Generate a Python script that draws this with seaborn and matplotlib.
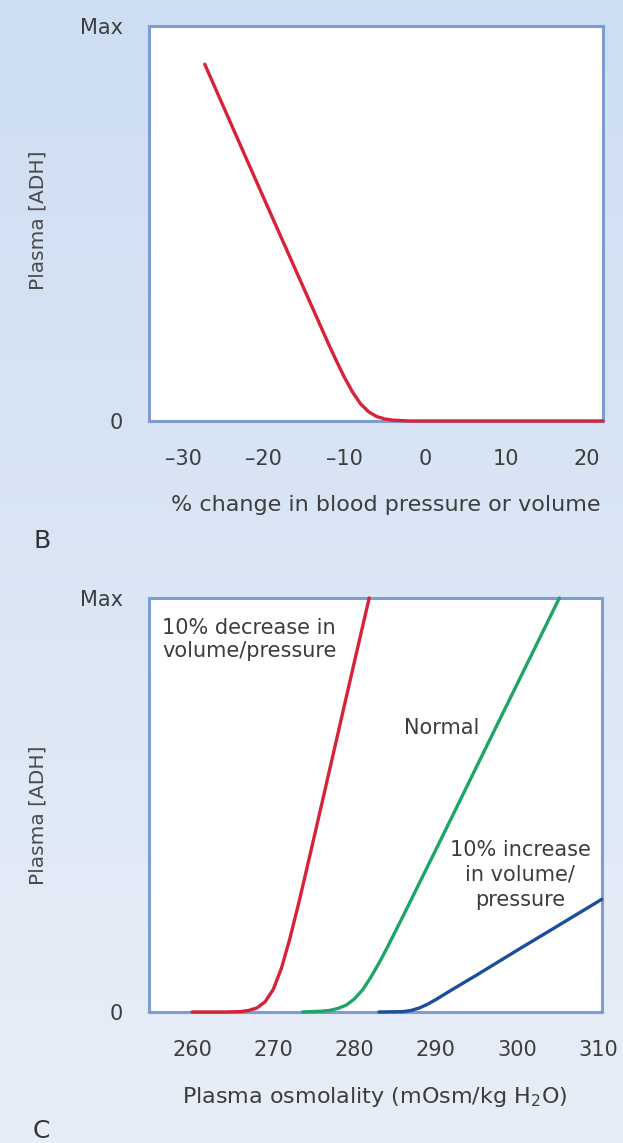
import matplotlib
matplotlib.use("Agg")
import matplotlib.pyplot as plt
import numpy as np
import pandas as pd
import seaborn as sns

# panel B: ADH vs % change in blood pressure / volume
b_change = [-27.3, -22, -18, -14, -12, -11, -10, -9, -8, -7, -6, -5, -4, -2, 22]
b_adh = [0.903, 0.657, 0.472, 0.288, 0.196, 0.152, 0.110, 0.073, 0.043,
         0.023, 0.011, 0.005, 0.002, 0.0, 0.0]
b_ticks = [-30, -20, -10, 0, 10, 20]

# panel C: ADH vs plasma osmolality, three volume states
c_dec_osm = [260, 264, 266, 267, 268, 269, 270, 271, 272, 273, 274, 276, 278, 280, 281.8]
c_dec_adh = [0, 0, 0.001, 0.004, 0.010, 0.025, 0.055, 0.106, 0.175, 0.253,
             0.336, 0.506, 0.677, 0.848, 1.0]
c_norm_osm = [273.6, 276, 277, 278, 279, 280, 281, 282, 283, 284, 286, 290, 295, 300, 305.2]
c_norm_adh = [0, 0.002, 0.004, 0.009, 0.017, 0.032, 0.054, 0.084, 0.118, 0.155,
              0.233, 0.392, 0.592, 0.792, 1.0]
c_inc_osm = [283.0, 286, 287, 288, 289, 290, 292, 295, 300, 305, 310.4]
c_inc_adh = [0, 0.001, 0.004, 0.010, 0.019, 0.030, 0.054, 0.089, 0.149, 0.208, 0.272]
c_ticks = [260, 270, 280, 290, 300, 310]

y_ticks = [0, 1]
y_ticklabels = ["0", "Max"]

RED = "#d62339"
GREEN = "#1ea566"
BLUE = "#1c4f9a"
FRAME = "#7f9cd0"
TICK = "#8ea3c6"
TEXT = "#3d3d3d"

sns.set_style("white")
plt.rcParams["font.family"] = ["DejaVu Sans"]

fig = plt.figure(figsize=(6.23, 11.43), dpi=100)

# soft blue gradient background
bg = fig.add_axes([0, 0, 1, 1], zorder=-10)
grad = np.linspace(0, 1, 256).reshape(-1, 1)
bg.imshow(grad, aspect="auto", extent=[0, 1, 0, 1],
          cmap=matplotlib.colors.LinearSegmentedColormap.from_list(
              "bg", ["#cddef2", "#e8eef8"]))
bg.axis("off")

ax_b = fig.add_axes([0.2392, 0.6317, 0.7287, 0.3456])
ax_c = fig.add_axes([0.2392, 0.1146, 0.7271, 0.3622])


def style_axes(ax, xlim, xticks):
    ax.set_facecolor("white")
    ax.set_xlim(*xlim)
    ax.set_ylim(0, 1)
    ax.set_xticks(xticks)
    ax.set_yticks(y_ticks)
    ax.set_yticklabels(y_ticklabels)
    for s in ax.spines.values():
        s.set_visible(True)
        s.set_color(FRAME)
        s.set_linewidth(2.2)
    ax.tick_params(axis="x", direction="out", length=10, width=1.6, color=TICK,
                   pad=10, labelsize=15, labelcolor=TEXT)
    ax.tick_params(axis="y", direction="out", length=10, width=1.6, color=TICK,
                   pad=9, labelsize=15, labelcolor=TEXT)
    ax.set_ylabel("Plasma [ADH]", fontsize=14.5, color="#4a4a4a", va="center")


df_b = pd.DataFrame({"change": b_change, "adh": b_adh})
sns.lineplot(data=df_b, x="change", y="adh", ax=ax_b, color=RED, lw=2.4,
             clip_on=False, zorder=4)
style_axes(ax_b, (-34.2, 22.0), b_ticks)
ax_b.set_xlabel("% change in blood pressure or volume", fontsize=16, color=TEXT,
                va="center")
ax_b.xaxis.set_label_coords(0.522, -0.213)
ax_b.yaxis.set_label_coords(-0.2456, 0.509)
ax_b.set_xticklabels(["\u201330", "\u201320", "\u201310", "0", "10", "20"])

df_c = pd.concat([
    pd.DataFrame({"osm": c_dec_osm, "adh": c_dec_adh, "state": "decrease"}),
    pd.DataFrame({"osm": c_norm_osm, "adh": c_norm_adh, "state": "normal"}),
    pd.DataFrame({"osm": c_inc_osm, "adh": c_inc_adh, "state": "increase"}),
])
sns.lineplot(data=df_c, x="osm", y="adh", hue="state", ax=ax_c,
             palette={"decrease": RED, "normal": GREEN, "increase": BLUE},
             lw=2.4, legend=False, clip_on=False, zorder=4, estimator=None)
style_axes(ax_c, (254.7, 310.45), c_ticks)
ax_c.set_xlabel("Plasma osmolality (mOsm/kg H$_2$O)", fontsize=16, color=TEXT,
                va="center")
ax_c.xaxis.set_label_coords(0.498, -0.205)
ax_c.yaxis.set_label_coords(-0.2456, 0.476)

ax_c.text(256.3, 0.90, "10% decrease in\nvolume/pressure", fontsize=15,
          color=TEXT, ha="left", va="center")
ax_c.text(290.75, 0.686, "Normal", fontsize=15, color=TEXT, ha="center",
          va="center")
ax_c.text(300.4, 0.331, "10% increase\nin volume/\npressure", fontsize=15,
          color=TEXT, ha="center", va="center", multialignment="center",
          linespacing=1.3)

fig.text(0.0674, 0.5267, "B", fontsize=18, color="#333333", ha="center", va="center")
fig.text(0.0658, 0.0105, "C", fontsize=18, color="#333333", ha="center", va="center")

fig.savefig("out.png", dpi=100)
